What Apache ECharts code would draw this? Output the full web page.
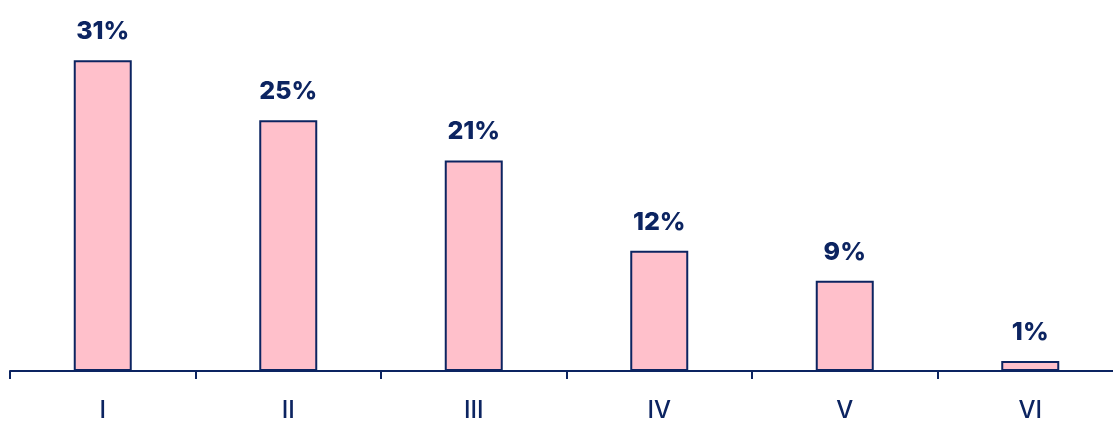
<!DOCTYPE html>
<html>
<head>
<meta charset="utf-8">
<script src="https://cdn.jsdelivr.net/npm/echarts@6/dist/echarts.min.js"></script>
<style>
  html, body { margin: 0; padding: 0; background: #fff; overflow: hidden; width: 1113px; height: 423px; }
  #chart { width: 1123px; height: 423px; }
</style>
</head>
<body>
<div id="chart"></div>
<script>
const categories = ['I', 'II', 'III', 'IV', 'V', 'VI'];
const shares = [31, 25, 21, 12, 9, 1];

const navy = '#0c2461';
const chart = echarts.init(document.getElementById('chart'));
chart.setOption({
  animation: false,
  grid: { left: 10, right: 0, top: 0, bottom: 47, containLabel: false },
  xAxis: {
    type: 'category',
    data: categories,
    axisLine: { lineStyle: { color: navy, width: 2 } },
    axisTick: { show: true, length: 8, lineStyle: { color: navy, width: 2 } },
    axisLabel: { color: navy, fontFamily: 'Inter', fontWeight: 500, fontSize: 24, margin: 28 }
  },
  yAxis: {
    type: 'value',
    min: 0,
    max: 37,
    show: false,
    splitLine: { show: false }
  },
  series: [{
    type: 'bar',
    data: shares,
    barWidth: 58,
    itemStyle: { color: '#ffc0cb', borderColor: navy, borderWidth: 2 },
    label: {
      show: true,
      position: 'top',
      distance: 16,
      formatter: p => p.value + '%',
      color: navy,
      fontFamily: 'Inter',
      fontWeight: 800,
      fontSize: 25
    }
  }]
});
</script>
</body>
</html>
